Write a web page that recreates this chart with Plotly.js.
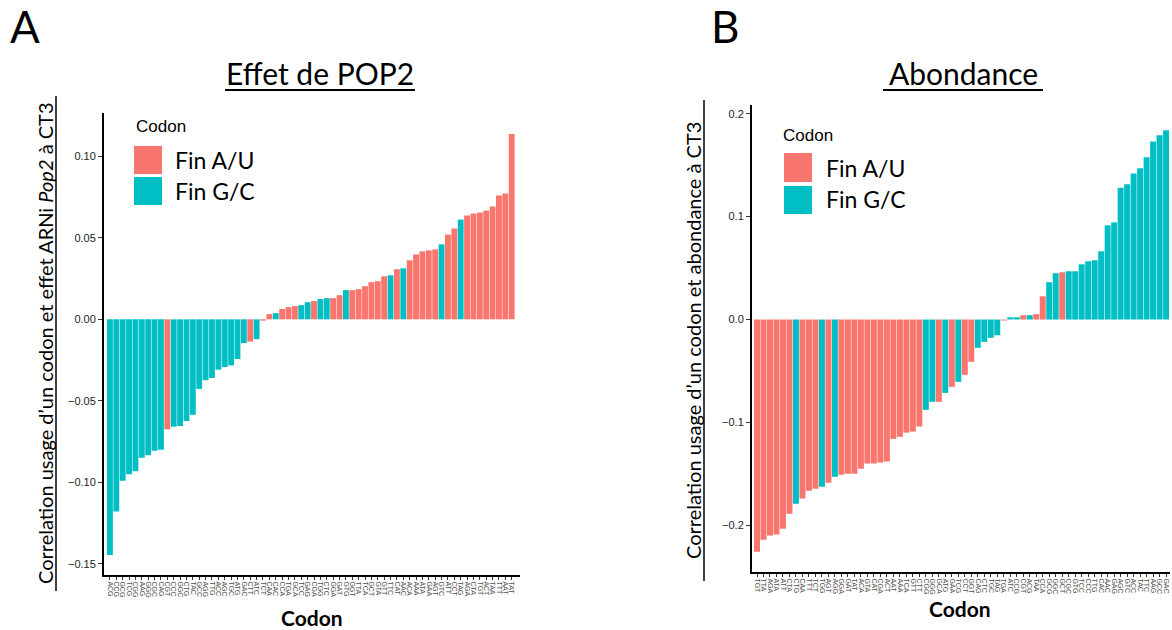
<!DOCTYPE html>
<html>
<head>
<meta charset="utf-8">
<script src="https://cdn.plot.ly/plotly-3.0.1.min.js"></script>
<style>html,body{margin:0;padding:0;background:#fff;}#chart{width:1172px;height:630px;}</style>
</head>
<body>
<div id="chart"></div>
<script>
// ---------- data ----------
const codonsA = ["ACG","CCG","GCG","TCG","CGG","AAG","GGG","CGC","CAG","CGT","CCC","GGC","CTG","TAC","GCC","AGG","TTG","ACC","AGC","TGC","ATG","GAC","CTT","ATC","TCT","CAA","CAC","CCA","TGA","GCA","TCC","GAG","CGA","TGG","CTC","GGA","GAT","GTG","GGT","TTA","TCA","GCT","GTA","GTT","TTC","CAT","AAC","ACA","AAA","ATA","GAA","AGT","GTC","ATT","CCT","TAG","AGA","CTA","TGT","ACT","TAA","TTT","AAT","TAT"];
const effetA = [-0.1446,-0.118,-0.099,-0.095,-0.0933,-0.085,-0.0834,-0.0807,-0.080,-0.0675,-0.0659,-0.0655,-0.0624,-0.0586,-0.0427,-0.0374,-0.036,-0.0309,-0.0293,-0.0283,-0.0244,-0.0146,-0.0137,-0.0122,-0.0008,0.0032,0.0038,0.0063,0.0075,0.0081,0.0087,0.0105,0.0112,0.0124,0.013,0.013,0.0148,0.0179,0.0179,0.0185,0.0203,0.0228,0.0234,0.0264,0.027,0.0307,0.0313,0.0362,0.0398,0.0417,0.0423,0.0429,0.046,0.052,0.0557,0.0612,0.0637,0.0649,0.0655,0.0667,0.0692,0.076,0.0772,0.1137];

const codonsB = ["TGT","TTA","AGA","ATA","ATT","CTA","CTG","CAA","TTT","TCT","TGG","AGT","AGG","GGA","GAT","TAT","ACA","GTA","CAT","CGA","ACT","AAT","AAA","TCA","GTT","CTT","CGG","GGG","GCA","ATG","GAA","TCG","CCT","GGT","CAG","CTC","TGC","TAG","TGA","ATC","CCG","CGT","ACG","TAA","CCA","GCG","GGC","GCT","CGC","GTG","TCC","CCC","TTG","CAC","AAC","GAG","AGC","GTC","ACC","TAC","TTC","AAG","GCC","GAC"];
const abondB = [-0.2256,-0.214,-0.210,-0.209,-0.2033,-0.1887,-0.179,-0.174,-0.1664,-0.1645,-0.1625,-0.1586,-0.1528,-0.1509,-0.150,-0.150,-0.145,-0.140,-0.140,-0.139,-0.138,-0.116,-0.114,-0.110,-0.109,-0.104,-0.0878,-0.080,-0.080,-0.0713,-0.0654,-0.0606,-0.0537,-0.0411,-0.0275,-0.0217,-0.0178,-0.0153,-0.001,0.0022,0.0022,0.0042,0.0042,0.0052,0.0226,0.0362,0.045,0.0459,0.0469,0.0469,0.0537,0.0566,0.0576,0.0663,0.0915,0.0944,0.128,0.1314,0.142,0.147,0.1576,0.173,0.179,0.184];

const legendLabels = ["Fin A/U","Fin G/C"];
const yTicksA = [-0.15,-0.10,-0.05,0.00,0.05,0.10];
const yTicksB = [-0.2,-0.1,0.0,0.1,0.2];

// ---------- styling ----------
const RED = "#F8766D", TEAL = "#00BFC4";
const W = 1172, H = 630;
const px = v => v / W;
const py = v => 1 - v / H;
const colorOf = c => /[AT]$/.test(c) ? RED : TEAL;
const HUM = "Lato, 'Open Sans', sans-serif";
const ARI = "'Liberation Sans', Arial, sans-serif";

const traces = [
  {type:"bar", x:codonsA, y:effetA, xaxis:"x", yaxis:"y",
   marker:{color:codonsA.map(colorOf), line:{width:0}}, showlegend:false, hoverinfo:"x+y"},
  {type:"bar", x:codonsB, y:abondB, xaxis:"x2", yaxis:"y2",
   marker:{color:codonsB.map(colorOf), line:{width:0}}, showlegend:false, hoverinfo:"x+y"}
];

const xCommon = {type:"category", tickmode:"linear", tick0:0, dtick:1, tickangle:90,
  tickfont:{family:ARI, size:7, color:"#4d4d4d"}, ticks:"outside", ticklen:3, tickwidth:1,
  tickcolor:"#333", showline:true, linewidth:2, linecolor:"#000", showgrid:false, zeroline:false, fixedrange:true};
const yCommon = {ticks:"outside", ticklen:4, tickwidth:1, tickcolor:"#333",
  tickfont:{family:ARI, size:11, color:"#222"}, showline:true, linewidth:2, linecolor:"#000",
  showgrid:false, zeroline:false, tickmode:"array", fixedrange:true};

const layout = {
  width:W, height:H, autosize:false,
  margin:{l:0,r:0,t:0,b:0,pad:0},
  paper_bgcolor:"#fff", plot_bgcolor:"#fff",
  bargap:0.08, showlegend:false,
  xaxis:Object.assign({}, xCommon, {domain:[px(104), px(520)], range:[-0.93, 64.3], anchor:"y"}),
  yaxis:Object.assign({}, yCommon, {domain:[py(575), py(113)], range:[-0.1569, 0.1266], anchor:"x",
    tickvals:yTicksA, tickformat:".2f"}),
  xaxis2:Object.assign({}, xCommon, {domain:[px(752), px(1170)], range:[-0.77, 63.6], anchor:"y2"}),
  yaxis2:Object.assign({}, yCommon, {domain:[py(572), py(105)], range:[-0.2454, 0.2085], anchor:"x2",
    tickvals:yTicksB, tickformat:".1f"}),
  shapes:[
    // title underlines
    {type:"line", xref:"paper", yref:"paper", x0:px(225), x1:px(415), y0:py(90), y1:py(90), line:{color:"#000", width:2}},
    {type:"line", xref:"paper", yref:"paper", x0:px(883), x1:px(1043), y0:py(90), y1:py(90), line:{color:"#000", width:2}},
    // y title underlines
    {type:"line", xref:"paper", yref:"paper", x0:px(56), x1:px(56), y0:py(96), y1:py(591), line:{color:"#000", width:1.5}},
    {type:"line", xref:"paper", yref:"paper", x0:px(704), x1:px(704), y0:py(100), y1:py(581), line:{color:"#000", width:1.5}},
    // legend keys A
    {type:"rect", xref:"paper", yref:"paper", x0:px(134), x1:px(162), y0:py(146), y1:py(174), fillcolor:RED, line:{width:0}},
    {type:"rect", xref:"paper", yref:"paper", x0:px(134), x1:px(162), y0:py(177), y1:py(205), fillcolor:TEAL, line:{width:0}},
    // legend keys B
    {type:"rect", xref:"paper", yref:"paper", x0:px(784), x1:px(812), y0:py(153), y1:py(182), fillcolor:RED, line:{width:0}},
    {type:"rect", xref:"paper", yref:"paper", x0:px(784), x1:px(812), y0:py(186), y1:py(214), fillcolor:TEAL, line:{width:0}}
  ],
  annotations:[
    {text:"A", xref:"paper", yref:"paper", x:px(25), y:py(26), xanchor:"center", yanchor:"middle", showarrow:false, font:{family:HUM, size:44, color:"#000"}},
    {text:"B", xref:"paper", yref:"paper", x:px(725), y:py(26), xanchor:"center", yanchor:"middle", showarrow:false, font:{family:HUM, size:44, color:"#000"}},
    {text:"Effet de POP2", xref:"paper", yref:"paper", x:px(320), y:py(73), xanchor:"center", yanchor:"middle", showarrow:false, font:{family:HUM, size:30, color:"#000"}},
    {text:"Abondance", xref:"paper", yref:"paper", x:px(963), y:py(73), xanchor:"center", yanchor:"middle", showarrow:false, font:{family:HUM, size:30, color:"#000"}},
    {text:"Correlation usage d’un codon et effet ARNi <i>Pop2</i> à CT3", xref:"paper", yref:"paper", x:px(45), y:py(343), xanchor:"center", yanchor:"middle", textangle:-90, showarrow:false, font:{family:HUM, size:20, color:"#000"}},
    {text:"Correlation usage d’un codon et abondance à CT3", xref:"paper", yref:"paper", x:px(693), y:py(341), xanchor:"center", yanchor:"middle", textangle:-90, showarrow:false, font:{family:HUM, size:20, color:"#000"}},
    {text:"<b>Codon</b>", xref:"paper", yref:"paper", x:px(312), y:py(617), xanchor:"center", yanchor:"middle", showarrow:false, font:{family:HUM, size:21, color:"#000"}},
    {text:"<b>Codon</b>", xref:"paper", yref:"paper", x:px(960), y:py(608), xanchor:"center", yanchor:"middle", showarrow:false, font:{family:HUM, size:21, color:"#000"}},
    // legends
    {text:"Codon", xref:"paper", yref:"paper", x:px(134), y:py(127), xanchor:"left", yanchor:"middle", showarrow:false, font:{family:ARI, size:17, color:"#000"}},
    {text:legendLabels[0], xref:"paper", yref:"paper", x:px(173), y:py(160), xanchor:"left", yanchor:"middle", showarrow:false, font:{family:HUM, size:23, color:"#000"}},
    {text:legendLabels[1], xref:"paper", yref:"paper", x:px(173), y:py(191), xanchor:"left", yanchor:"middle", showarrow:false, font:{family:HUM, size:23, color:"#000"}},
    {text:"Codon", xref:"paper", yref:"paper", x:px(781), y:py(135), xanchor:"left", yanchor:"middle", showarrow:false, font:{family:ARI, size:17, color:"#000"}},
    {text:legendLabels[0], xref:"paper", yref:"paper", x:px(824), y:py(168), xanchor:"left", yanchor:"middle", showarrow:false, font:{family:HUM, size:23, color:"#000"}},
    {text:legendLabels[1], xref:"paper", yref:"paper", x:px(824), y:py(199), xanchor:"left", yanchor:"middle", showarrow:false, font:{family:HUM, size:23, color:"#000"}}
  ]
};

Plotly.newPlot("chart", traces, layout, {displayModeBar:false, staticPlot:true});
</script>
</body>
</html>
